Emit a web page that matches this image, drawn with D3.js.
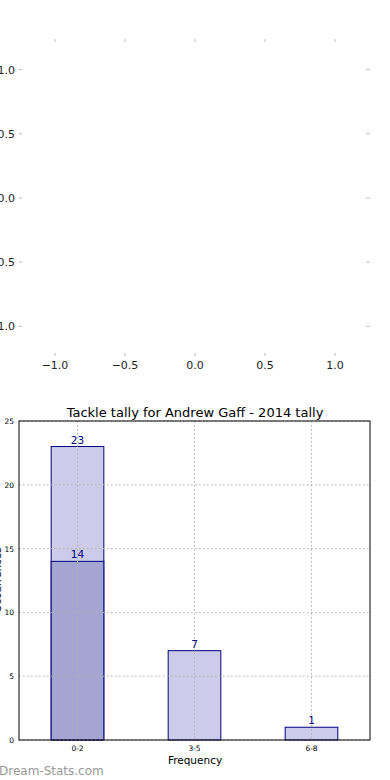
<html>
<head>
  <meta charset="utf-8">
  <title>Tackle tally</title>
  <script src="https://d3js.org/d3.v7.min.js"></script>
  <style>
    body { margin: 0; background: #fff; }
    text { font-family: "DejaVu Sans", sans-serif; }
    .grid line { stroke: #b0b0b0; stroke-dasharray: 1.5,2.5; }
  </style>
</head>
<body>
  <svg id="screen"></svg>
  <script>
    // data
    const categories = ["0-2", "3-5", "6-8"]
    const allTackles = [23, 7, 1]
    const subTackles = [14, null, null]
    const yTicks = [0, 5, 10, 15, 20, 25]
    const emptyTicks = [-1.0, -0.5, 0.0, 0.5, 1.0]

    let svg = d3.select('#screen').attr('width', 390).attr('height', 780)

    // ---- top: empty axes, frame off ----
    let tx = d3.scaleLinear().domain([-1.25, 1.25]).range([20, 370])
    let ty = d3.scaleLinear().domain([-1.235, 1.235]).range([356.5, 39.5])
    let upper = svg.append('g')
    let fmt = d => d3.format('.1f')(d).replace('-', '\u2212')

    emptyTicks.forEach(v => {
      // tiny tick marks on all four sides
      upper.append('line').attr('x1', tx(v)).attr('x2', tx(v)).attr('y1', 39).attr('y2', 42)
        .attr('stroke', '#bbb')
      upper.append('line').attr('x1', tx(v)).attr('x2', tx(v)).attr('y1', 353).attr('y2', 356)
        .attr('stroke', '#bbb')
      upper.append('line').attr('x1', 19).attr('x2', 22).attr('y1', ty(v)).attr('y2', ty(v))
        .attr('stroke', '#bbb')
      upper.append('line').attr('x1', 366).attr('x2', 370).attr('y1', ty(v)).attr('y2', ty(v))
        .attr('stroke', '#bbb')
      upper.append('text').attr('x', tx(v)).attr('y', 369).attr('text-anchor', 'middle')
        .attr('font-size', 11).attr('fill', '#222').text(fmt(v))
      upper.append('text').attr('x', 15).attr('y', ty(v) + 4).attr('text-anchor', 'end')
        .attr('font-size', 11).attr('fill', '#222').text(fmt(v))
    })

    // ---- bottom: bar chart ----
    let m = {left: 19, right: 370, top: 421, bottom: 740}
    let x = d3.scaleLinear().domain([-0.5, 2.5]).range([m.left, m.right])
    let y = d3.scaleLinear().domain([0, 25]).range([m.bottom, m.top])
    let barW = x(0.45) - x(0)
    let g = svg.append('g')

    // grid
    let grid = g.append('g').attr('class', 'grid')
    grid.selectAll('.gx').data(categories).enter().append('line')
      .attr('x1', (d, i) => x(i)).attr('x2', (d, i) => x(i))
      .attr('y1', m.top).attr('y2', m.bottom)
    grid.selectAll('.gy').data(yTicks).enter().append('line')
      .attr('x1', m.left).attr('x2', m.right)
      .attr('y1', d => y(d)).attr('y2', d => y(d))

    // bars (all tackles)
    g.selectAll('.bar').data(allTackles).enter().append('rect')
      .attr('x', (d, i) => x(i) - barW / 2).attr('width', barW)
      .attr('y', d => y(d)).attr('height', d => y(0) - y(d))
      .attr('fill', '#ccccea')
      .attr('stroke', '#000080').attr('stroke-width', 1)

    // bars (subset)
    subTackles.forEach((d, i) => {
      if (d == null) return
      g.append('rect')
        .attr('x', x(i) - barW / 2).attr('width', barW)
        .attr('y', y(d)).attr('height', y(0) - y(d))
        .attr('fill', '#a5a5d2')
        .attr('stroke', '#000080').attr('stroke-width', 1)
    })

    // grid shows through the bars
    grid.raise()

    // value labels
    g.selectAll('.lab').data(allTackles).enter().append('text')
      .attr('x', (d, i) => x(i)).attr('y', d => y(d) - 3)
      .attr('text-anchor', 'middle').attr('font-size', 10.5).attr('fill', '#000080')
      .text(d => d)
    subTackles.forEach((d, i) => {
      if (d == null) return
      g.append('text').attr('x', x(i)).attr('y', y(d) - 3)
        .attr('text-anchor', 'middle').attr('font-size', 10.5).attr('fill', '#000080')
        .text(d)
    })

    // frame
    g.append('rect').attr('x', m.left).attr('y', m.top)
      .attr('width', m.right - m.left).attr('height', m.bottom - m.top)
      .attr('fill', 'none').attr('stroke', '#000').attr('stroke-width', 1)

    // tick labels
    g.selectAll('.yt').data(yTicks).enter().append('text')
      .attr('x', 14).attr('y', d => y(d) + 3).attr('text-anchor', 'end')
      .attr('font-size', 7.5).attr('fill', '#000').text(d => d)
    g.selectAll('.xt').data(categories).enter().append('text')
      .attr('x', (d, i) => x(i)).attr('y', m.bottom + 11).attr('text-anchor', 'middle')
      .attr('font-size', 7.5).attr('fill', '#000').text(d => d)

    // title and axis labels
    svg.append('text').attr('x', 195).attr('y', 417).attr('text-anchor', 'middle')
      .attr('font-size', 13).attr('fill', '#000').text('Tackle tally for Andrew Gaff - 2014 tally')
    svg.append('text').attr('x', 195).attr('y', 764).attr('text-anchor', 'middle')
      .attr('font-size', 10.5).attr('fill', '#000').text('Frequency')
    svg.append('text').attr('transform', 'translate(0.5,580) rotate(-90)')
      .attr('text-anchor', 'middle').attr('font-size', 10.5).attr('fill', '#000')
      .text('Occurrences')

    // watermark
    svg.append('text').attr('x', -1).attr('y', 775)
      .attr('font-size', 12).attr('fill', '#999').attr('font-family', 'Open Sans, sans-serif')
      .text('Dream-Stats.com')
  </script>
</body>
</html>
